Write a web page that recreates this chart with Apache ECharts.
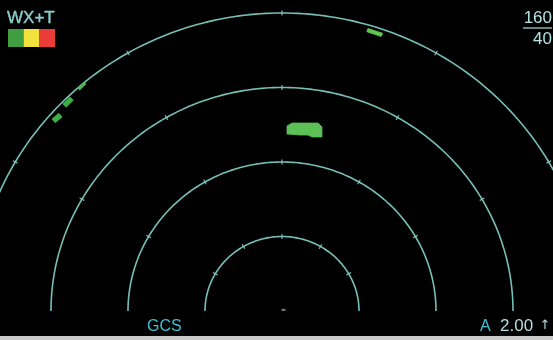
<!DOCTYPE html>
<html>
<head>
<meta charset="utf-8">
<script src="https://cdn.jsdelivr.net/npm/echarts@6/dist/echarts.min.js"></script>
<style>
  html, body { margin: 0; padding: 0; background: #c9c9c9; width: 553px; height: 340px; overflow: hidden; }
  #chart { position: absolute; left: 0; top: 0; width: 553px; height: 336px; background: #000; }
</style>
</head>
<body>
<div id="chart"></div>
<script>
// Range rings (NM) and tick bearings (degrees from right horizontal)
const rangeRings = [10, 20, 30, 40];
const tickBearings = [30, 60, 90, 120, 150];
const rangeTop = '160';
const rangeBottom = '40';
const modeLabel = 'WX+T';
const gainLabel = 'GCS';
const tiltMode = 'A';
const tiltValue = '2.00';
const wxLegendColors = ['#3f9f40', '#f2e23e', '#ea3b36'];

// Weather returns, polygon vertices in NM [x east, y ahead]
const cellMain = [[0.65,24.83],[1.30,25.23],[4.68,25.23],[5.19,24.70],[5.19,23.36],[3.90,23.36],[3.38,23.62],[2.34,23.62],[0.65,23.76]];
const cellWestA = [[-27.10,28.28],[-27.55,28.76],[-28.48,27.83],[-28.04,27.35]];
const cellWestB = [[-28.57,26.04],[-28.99,26.55],[-29.87,25.77],[-29.45,25.26]];
const cellWestC = [[-25.44,30.50],[-25.68,30.74],[-26.51,29.90],[-26.27,29.66]];
const cellNorthEast = [[12.86,36.85],[13.08,37.28],[11.16,37.92],[11.02,37.49]];
const wxCells = [cellMain, cellWestA, cellWestB, cellWestC, cellNorthEast];
const wxCellColors = ['#5cc056', '#3fae45', '#3fae45', '#4cb850', '#62c655'];
const aircraft = [[0.2, 0.15]];

const ringColor = '#76bfb7';
const chart = echarts.init(document.getElementById('chart'), null, { renderer: 'canvas' });

const option = {
  backgroundColor: '#000',
  animation: false,
  grid: { left: 0, right: 0, top: 0, bottom: 0 },
  xAxis: { type: 'value', min: -282 / 7.7, max: 271 / 7.7, show: false },
  yAxis: { type: 'value', min: -25 / 7.45, max: 311 / 7.45, show: false },
  series: [
    {
      type: 'custom',
      data: rangeRings.map(r => [r, 0]),
      encode: { x: 0, y: 1 },
      renderItem: function (params, api) {
        const r = api.value(0);
        const pts = [];
        for (let a = 0; a <= 180; a += 1) {
          const t = a * Math.PI / 180;
          pts.push(api.coord([r * Math.cos(t), r * Math.sin(t)]));
        }
        const children = [{
          type: 'polyline',
          shape: { points: pts },
          style: { stroke: ringColor, lineWidth: 1.6, fill: null }
        }];
        tickBearings.forEach(function (b) {
          const t = b * Math.PI / 180;
          const p1 = api.coord([(r - 0.35) * Math.cos(t), (r - 0.35) * Math.sin(t)]);
          const p2 = api.coord([(r + 0.35) * Math.cos(t), (r + 0.35) * Math.sin(t)]);
          children.push({
            type: 'line',
            shape: { x1: p1[0], y1: p1[1], x2: p2[0], y2: p2[1] },
            style: { stroke: '#8cc8c0', lineWidth: 1.1 }
          });
        });
        return { type: 'group', children: children };
      },
      silent: true,
      z: 2
    },
    {
      type: 'custom',
      data: wxCells.map((c, i) => [i, 0]),
      encode: { x: 1, y: 1 },
      renderItem: function (params, api) {
        const i = api.value(0);
        const pts = wxCells[i].map(p => api.coord(p));
        return {
          type: 'polygon',
          shape: { points: pts },
          style: { fill: wxCellColors[i], stroke: wxCellColors[i], lineWidth: 0.8 }
        };
      },
      silent: true,
      z: 3
    },
    {
      type: 'scatter',
      data: aircraft,
      symbol: 'rect',
      symbolSize: [4, 2],
      itemStyle: { color: '#9a9a9a' },
      silent: true,
      z: 4
    }
  ],
  graphic: [
    { type: 'text', x: 7, y: 18.5, style: { text: modeLabel, font: '17px "Liberation Sans", Arial, sans-serif', fill: '#8ccfc9', stroke: '#8ccfc9', lineWidth: 0.4, verticalAlign: 'middle' } },
    { type: 'rect', shape: { x: 8, y: 29, width: 15.5, height: 18 }, style: { fill: wxLegendColors[0] } },
    { type: 'rect', shape: { x: 23.5, y: 29, width: 15.5, height: 18 }, style: { fill: wxLegendColors[1] } },
    { type: 'rect', shape: { x: 39, y: 29, width: 16, height: 18 }, style: { fill: wxLegendColors[2] } },
    { type: 'text', x: 552, y: 18.5, style: { text: rangeTop, font: '17px "Liberation Sans", Arial, sans-serif', fill: '#b0e4e6', align: 'right', verticalAlign: 'middle' } },
    { type: 'line', shape: { x1: 523, y1: 28, x2: 552, y2: 28 }, style: { stroke: '#a8dcdc', lineWidth: 1.2 } },
    { type: 'text', x: 552, y: 39.5, style: { text: rangeBottom, font: '17px "Liberation Sans", Arial, sans-serif', fill: '#b0e4e6', align: 'right', verticalAlign: 'middle' } },
    { type: 'text', x: 147, y: 326.5, style: { text: gainLabel, font: '16px "Liberation Sans", Arial, sans-serif', fill: '#3cc0d4', align: 'left', verticalAlign: 'middle' } },
    { type: 'text', x: 480, y: 326.5, style: { text: tiltMode, font: '16px "Liberation Sans", Arial, sans-serif', fill: '#3cc0d4', align: 'left', verticalAlign: 'middle' } },
    { type: 'text', x: 500, y: 326.5, style: { text: tiltValue, font: '17px "Liberation Sans", Arial, sans-serif', fill: '#b8dede', align: 'left', verticalAlign: 'middle' } },
    { type: 'text', x: 545, y: 325.5, style: { text: '↑', font: '13px "DejaVu Sans", sans-serif', fill: '#b8dede', align: 'center', verticalAlign: 'middle' } }
  ]
};
chart.setOption(option);
</script>
</body>
</html>
